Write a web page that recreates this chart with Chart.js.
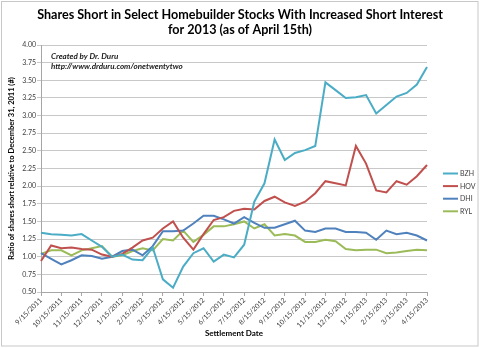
<!DOCTYPE html>
<html>
<head>
<meta charset="utf-8">
<script src="https://cdn.jsdelivr.net/npm/chart.js@4"></script>
<style>
  html, body { margin: 0; padding: 0; background: #fff; }
  #wrap { width: 480px; height: 348px; position: relative; }
</style>
</head>
<body>
<div id="wrap"><canvas id="chart" width="480" height="348"></canvas></div>
<script>
'use strict';

// settlement dates, twice a month
const settlementDates = [
  '9/15/2011', '9/30/2011', '10/15/2011', '10/31/2011', '11/15/2011', '11/30/2011',
  '12/15/2011', '12/30/2011', '1/15/2012', '1/31/2012', '2/15/2012', '2/29/2012',
  '3/15/2012', '3/30/2012', '4/15/2012', '4/30/2012', '5/15/2012', '5/31/2012',
  '6/15/2012', '6/29/2012', '7/15/2012', '7/31/2012', '8/15/2012', '8/31/2012',
  '9/15/2012', '9/28/2012', '10/15/2012', '10/31/2012', '11/15/2012', '11/30/2012',
  '12/15/2012', '12/31/2012', '1/15/2013', '1/31/2013', '2/15/2013', '2/28/2013',
  '3/15/2013', '3/28/2013', '4/15/2013'
];

const bzh = [1.34, 1.32, 1.31, 1.30, 1.32, 1.23, 1.14, 1.00, 1.03, 0.96, 0.95, 1.13, 0.68,
  0.56, 0.86, 1.05, 1.12, 0.93, 1.03, 0.99, 1.17, 1.78, 2.04, 2.66, 2.37, 2.47, 2.51,
  2.57, 3.47, 3.36, 3.25, 3.26, 3.29, 3.03, 3.15, 3.27, 3.32, 3.44, 3.69];
const hov = [0.94, 1.16, 1.12, 1.13, 1.11, 1.10, 1.03, 1.00, 1.04, 1.13, 1.23, 1.27, 1.40,
  1.50, 1.27, 1.10, 1.32, 1.52, 1.56, 1.65, 1.68, 1.67, 1.79, 1.85, 1.77, 1.72, 1.78,
  1.90, 2.07, 2.04, 2.01, 2.57, 2.32, 1.94, 1.91, 2.07, 2.02, 2.14, 2.30];
const dhi = [1.05, 0.97, 0.89, 0.95, 1.02, 1.01, 0.97, 1.00, 1.08, 1.10, 1.02, 1.15, 1.36,
  1.36, 1.37, 1.47, 1.58, 1.58, 1.53, 1.47, 1.56, 1.48, 1.41, 1.41, 1.46, 1.51, 1.37,
  1.35, 1.40, 1.40, 1.35, 1.35, 1.34, 1.24, 1.37, 1.32, 1.34, 1.30, 1.23];
const ryl = [1.04, 1.09, 1.09, 1.02, 1.09, 1.12, 1.15, 1.00, 1.02, 1.08, 1.12, 1.09, 1.25,
  1.23, 1.37, 1.21, 1.31, 1.43, 1.43, 1.46, 1.50, 1.40, 1.46, 1.30, 1.32, 1.30, 1.21,
  1.21, 1.24, 1.22, 1.11, 1.09, 1.10, 1.10, 1.05, 1.06, 1.08, 1.10, 1.09];

const tickers = ['BZH', 'HOV', 'DHI', 'RYL'];
const colors = ['#4BACC6', '#C0504D', '#4F81BD', '#9BBB59'];

const chartTitle = [
  'Shares Short in Select Homebuilder Stocks With Increased Short Interest',
  'for 2013 (as of April 15th)'
];
const credits = ['Created by Dr. Duru', 'http://www.drduru.com/onetwentytwo'];

const FONT = 'Lato, Carlito, Calibri, sans-serif';

// title, credit note, border and legend drawn around the plot
const decorPlugin = {
  id: 'decor',
  beforeDraw(chart) {
    const ctx = chart.ctx;
    ctx.save();
    ctx.fillStyle = '#fff';
    ctx.fillRect(0, 0, chart.width, chart.height);
    ctx.strokeStyle = '#c8c8c8';
    ctx.lineWidth = 1;
    ctx.strokeRect(1.5, 1.5, 476.5, 344.5);
    ctx.restore();
  },
  afterDraw(chart) {
    const ctx = chart.ctx;
    ctx.save();
    ctx.fillStyle = '#000';
    ctx.textAlign = 'center';
    ctx.textBaseline = 'middle';
    ctx.font = `bold 12.6px ${FONT}`;
    ctx.fillText(chartTitle[0], 240, 14.5);
    ctx.fillText(chartTitle[1], 240, 29.5);

    ctx.textAlign = 'left';
    ctx.font = `italic bold 8px ${FONT}`;
    ctx.fillStyle = '#1a1a1a';
    ctx.fillText(credits[0], 51, 56);
    ctx.fillText(credits[1], 51, 66);

    ctx.font = `7px ${FONT}`;
    chart.data.datasets.forEach((ds, i) => {
      const y = 173.5 + i * 12.6;
      ctx.strokeStyle = ds.borderColor;
      ctx.lineWidth = 2;
      ctx.beginPath();
      ctx.moveTo(443, y);
      ctx.lineTo(458, y);
      ctx.stroke();
      ctx.fillStyle = '#404040';
      ctx.fillText(ds.label, 460, y + 0.5);
    });
    ctx.restore();
  }
};

const seriesData = [bzh, hov, dhi, ryl];

new Chart(document.getElementById('chart'), {
  type: 'line',
  data: {
    labels: settlementDates,
    datasets: tickers.map((t, i) => ({
      label: t,
      data: seriesData[i],
      borderColor: colors[i],
      backgroundColor: colors[i],
      borderWidth: 2,
      pointRadius: 0,
      tension: 0,
      fill: false
    }))
  },
  options: {
    responsive: false,
    animation: false,
    layout: { padding: { top: 45, right: 53, left: 0, bottom: 0 } },
    plugins: {
      legend: { display: false },
      tooltip: { enabled: false },
      title: { display: false }
    },
    scales: {
      x: {
        type: 'category',
        offset: false,
        grid: { display: true, drawOnChartArea: false, drawTicks: true, tickLength: 4, color: '#a6a6a6' },
        border: { color: '#a6a6a6' },
        ticks: {
          autoSkip: false,
          maxRotation: 45,
          minRotation: 45,
          padding: 0,
          color: '#404040',
          font: { family: FONT, size: 7 },
          callback(v, i) { return i % 2 === 0 ? this.getLabelForValue(v) : null; }
        },
        title: {
          display: true,
          text: 'Settlement Date',
          color: '#000',
          font: { family: FONT, size: 8, weight: 'bold' },
          padding: { top: 0, bottom: 10 }
        },
        afterFit(scale) { scale.height = 56; }
      },
      y: {
        min: 0.5,
        max: 4,
        grid: { color: '#c8c8c8', tickLength: 4 },
        border: { color: '#a6a6a6' },
        ticks: {
          stepSize: 0.25,
          padding: 1,
          color: '#404040',
          font: { family: FONT, size: 7 },
          callback: v => v.toFixed(2)
        },
        title: {
          display: true,
          text: 'Ratio of shares short relative to December 31, 2011 (#)',
          color: '#000',
          font: { family: FONT, size: 7.5, weight: 'bold' },
          padding: { top: 7, bottom: 0 }
        },
        afterFit(scale) { scale.width = 41; }
      }
    }
  },
  plugins: [decorPlugin]
});
</script>
</body>
</html>
